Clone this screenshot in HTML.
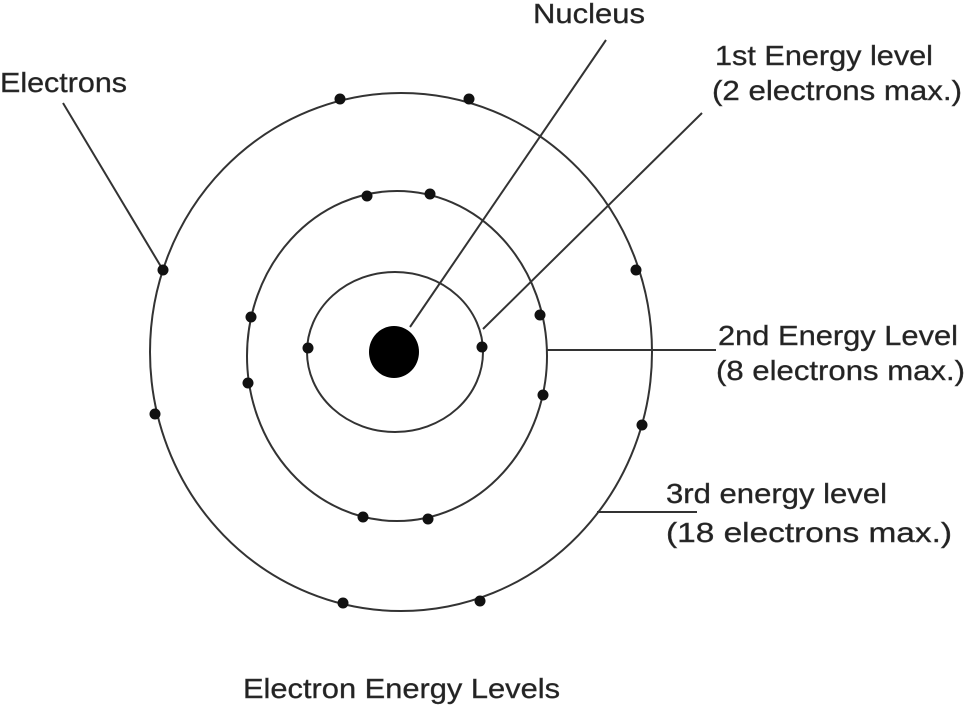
<!DOCTYPE html>
<html><head><meta charset="utf-8"><style>
html,body{margin:0;padding:0;background:#fff;}
svg{display:block;}
text{font-family:"Liberation Sans",Arial,sans-serif;fill:#222;font-size:28px;stroke:#444;stroke-width:0.4px;}
</style></head><body>
<svg width="965" height="716" viewBox="0 0 965 716" xmlns="http://www.w3.org/2000/svg">
<g fill="none" stroke="#333" stroke-width="2">
<ellipse cx="395" cy="352" rx="88" ry="80"/>
<ellipse cx="397" cy="356" rx="150" ry="165"/>
<ellipse cx="401" cy="352" rx="251" ry="259"/>
<line x1="63" y1="103" x2="163" y2="270"/>
<line x1="410" y1="327" x2="606" y2="40"/>
<line x1="483" y1="329" x2="702" y2="113"/>
<line x1="547" y1="350" x2="716" y2="350"/>
<line x1="597" y1="512" x2="697" y2="512"/>
</g>
<ellipse cx="394" cy="352" rx="25" ry="26" fill="#000"/>
<g fill="#111">
<circle cx="340" cy="99" r="5.5"/><circle cx="469" cy="99" r="5.5"/>
<circle cx="163" cy="270" r="5.5"/><circle cx="636" cy="270" r="5.5"/>
<circle cx="155" cy="414" r="5.5"/><circle cx="642" cy="425" r="5.5"/>
<circle cx="343" cy="603" r="5.5"/><circle cx="480" cy="601" r="5.5"/>
<circle cx="367" cy="196" r="5.5"/><circle cx="430" cy="194" r="5.5"/>
<circle cx="251" cy="317" r="5.5"/><circle cx="540" cy="315" r="5.5"/>
<circle cx="248" cy="383" r="5.5"/><circle cx="543" cy="395" r="5.5"/>
<circle cx="363" cy="517" r="5.5"/><circle cx="428" cy="519" r="5.5"/>
<circle cx="308" cy="348" r="5.5"/><circle cx="482" cy="347" r="5.5"/>
</g>
<text x="0" y="92" textLength="127" lengthAdjust="spacingAndGlyphs">Electrons</text>
<text x="533" y="23" textLength="112" lengthAdjust="spacingAndGlyphs">Nucleus</text>
<text x="715" y="65" textLength="218" lengthAdjust="spacingAndGlyphs">1st Energy level</text>
<text x="712" y="100" textLength="250" lengthAdjust="spacingAndGlyphs">(2 electrons max.)</text>
<text x="718" y="345" textLength="240" lengthAdjust="spacingAndGlyphs">2nd Energy Level</text>
<text x="716" y="380" textLength="249" lengthAdjust="spacingAndGlyphs">(8 electrons max.)</text>
<text x="666" y="503" textLength="221" lengthAdjust="spacingAndGlyphs">3rd energy level</text>
<text x="666" y="542" textLength="286" lengthAdjust="spacingAndGlyphs">(18 electrons max.)</text>
<text x="243" y="698" textLength="317" lengthAdjust="spacingAndGlyphs">Electron Energy Levels</text>
</svg>
</body></html>
